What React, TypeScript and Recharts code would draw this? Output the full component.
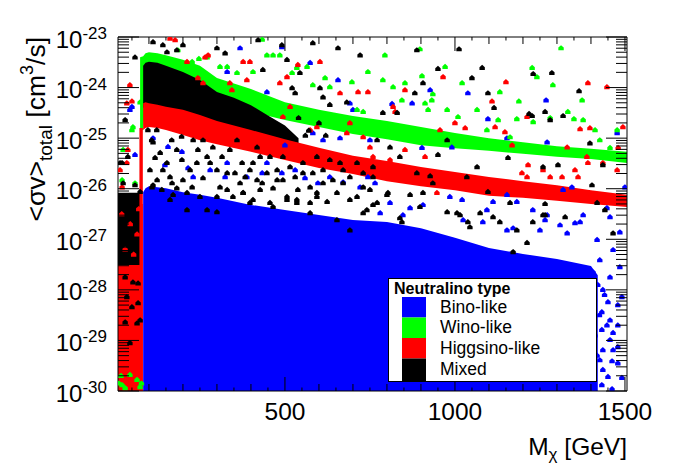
import React from 'react';
import { ComposedChart, Area, Scatter, XAxis, YAxis, Legend } from 'recharts';

const FONT = '"Liberation Sans", Arial, Helvetica, sans-serif';
const W = 696;
const H = 472;
const MARGIN = { top: 36, right: 68, bottom: 80, left: 117 };
const X_DOMAIN: [number, number] = [9, 1506];
const Y_DOMAIN: [number, number] = [1e-30, 1e-23];
const FLOOR = -30;

const COLORS = { bino: '#0000ff', wino: '#00ff00', higgsino: '#ff0000', mixed: '#000000' };
const legendTitle = 'Neutralino type';
const legendLabels = ['Bino-like', 'Wino-like', 'Higgsino-like', 'Mixed'];
const legendColors = [COLORS.bino, COLORS.wino, COLORS.higgsino, COLORS.mixed];

// axis ticks
const xLabelTicks = [500, 1000, 1500];
const xMinorTicks = [50, 100, 150, 200, 250, 300, 350, 400, 450, 500, 550, 600, 650, 700, 750, 800, 850, 900, 950, 1000, 1050, 1100, 1150, 1200, 1250, 1300, 1350, 1400, 1450, 1500];
const yDecades = [-30, -29, -28, -27, -26, -25, -24, -23];
const yMinorMantissas = [2, 3, 4, 5, 6, 7, 8, 9];

// ---- dense regions, values are log10(<sigma v> / cm^3 s^-1) ----
const binoBandMass = [83, 90, 100, 150, 200, 250, 300, 400, 500, 600, 700, 800, 900, 1000, 1100, 1200, 1300, 1400, 1420];
const binoBandHigh = [-26.07, -25.99, -25.95, -25.99, -26.07, -26.12, -26.18, -26.32, -26.42, -26.52, -26.62, -26.66, -26.78, -26.97, -27.17, -27.29, -27.39, -27.53, -27.71];

const winoBandMass = [74, 83, 90, 100, 125, 150, 200, 250, 300, 400, 500, 600, 700, 800, 900, 1000, 1100, 1200, 1300, 1400, 1506];
const winoBandLow = [-24.84, -24.84, -24.25, -24.15, -24.05, -24.05, -24.15, -24.25, -24.34, -24.48, -24.64, -24.78, -24.92, -25.02, -25.14, -25.2, -25.25, -25.31, -25.37, -25.41, -25.49];
const winoBandHigh = [-23.4, -23.38, -23.32, -23.3, -23.32, -23.36, -23.45, -23.57, -23.81, -24.03, -24.29, -24.44, -24.56, -24.66, -24.78, -24.9, -25.0, -25.08, -25.16, -25.21, -25.27];

const mixedBandMass = [83, 90, 100, 125, 150, 200, 250, 300, 350, 400, 450, 500, 540];
const mixedBandLow = [-24.4, -24.4, -24.4, -24.44, -24.48, -24.54, -24.64, -24.74, -24.82, -24.9, -24.97, -25.05, -25.1];
const mixedBandHigh = [-23.57, -23.51, -23.49, -23.51, -23.57, -23.69, -23.85, -24.09, -24.2, -24.35, -24.55, -24.75, -25.0];

const higgsinoBandMass = [83, 90, 100, 125, 150, 200, 250, 300, 400, 500, 600, 700, 800, 900, 1000, 1100, 1200, 1300, 1400, 1506];
const higgsinoBandLow = [-24.84, -24.8, -24.78, -24.8, -24.84, -24.94, -25.04, -25.12, -25.27, -25.43, -25.59, -25.71, -25.85, -25.95, -26.03, -26.14, -26.18, -26.24, -26.3, -26.36];
const higgsinoBandHigh = [-24.31, -24.29, -24.31, -24.34, -24.38, -24.44, -24.54, -24.66, -24.84, -25.02, -25.19, -25.35, -25.45, -25.57, -25.67, -25.77, -25.85, -25.93, -26.03, -26.12];

const higgsinoColMass = [9, 82];
const higgsinoColHigh = [-26.3, -26.3];
const mixedColMass = [9, 78];
const mixedColLow = [-27.51, -27.51];
const mixedColHigh = [-26.08, -26.08];
const higgsinoEdgeMass = [72, 82];
const higgsinoEdgeHigh = [-24.8, -24.8];

// ---- individual scattered points [mass GeV, log10 <sigma v>] ----
const binoPoints: [number, number][] = [
  [112, -25.0], [156, -25.17], [147, -25.53], [197, -25.27], [215, -25.59], [230, -25.77], [280, -25.63], [330, -25.49],
  [324, -25.77], [388, -25.77], [433, -25.69], [447, -25.49], [491, -25.69], [530, -25.63], [559, -25.79], [597, -25.89],
  [632, -25.77], [671, -25.87], [721, -25.97], [744, -25.77], [765, -25.89], [582, -24.9], [500, -25.14], [612, -25.04],
  [662, -25.0], [750, -25.04], [330, -23.69], [368, -23.22], [491, -23.2], [574, -23.51], [447, -24.09], [656, -23.85],
  [691, -24.31], [700, -24.44], [1038, -24.11], [927, -24.05], [1268, -24.25], [874, -24.31], [815, -24.32], [1097, -24.62],
  [1271, -25.08], [991, -25.18], [903, -25.19], [1153, -25.0], [1477, -24.9], [1500, -25.97], [1318, -26.02], [1344, -25.97],
  [1112, -26.26], [1153, -26.12], [1229, -26.42], [1021, -26.22], [985, -26.16], [1377, -26.52], [1447, -26.38], [1353, -26.68],
  [1265, -26.62], [1171, -26.78], [1094, -26.42], [906, -26.32], [868, -26.38], [809, -26.28], [780, -26.48], [847, -26.52],
  [1182, -26.26], [1271, -26.52], [1309, -26.72], [1368, -26.66], [1456, -26.56], [1485, -26.86], [1418, -27.01], [1465, -27.21],
  [1330, -26.88], [1250, -26.82], [1153, -26.82], [1082, -26.66], [1024, -26.62], [1426, -27.41], [1485, -27.55], [1456, -27.75],
  [1406, -27.65], [1435, -28.0], [1450, -28.24], [1479, -28.3], [1491, -28.14], [1432, -28.44], [1456, -28.6], [1447, -28.7],
  [1479, -28.7], [1432, -28.79], [1465, -28.85], [1456, -28.99], [1479, -29.13], [1435, -29.19], [1465, -29.19], [1426, -29.39],
  [1462, -29.41], [1479, -29.45], [1435, -29.58], [1450, -29.72], [1491, -29.74], [1432, -29.88], [1462, -29.96], [1406, -29.94],
  [1420, -27.9], [1440, -28.1], [1410, -28.2], [1425, -28.5], [1412, -28.9], [1418, -29.3], [1410, -29.6],
  [50, -24.38], [44, -24.44], [59, -25.33],
];

const winoPoints: [number, number][] = [
  [185, -23.26], [227, -23.49], [247, -23.43], [271, -23.4], [309, -23.59], [330, -23.59], [359, -23.71], [406, -23.69],
  [447, -23.36], [465, -23.36], [485, -23.36], [433, -23.05], [521, -23.71], [535, -23.61], [565, -23.59], [582, -23.95],
  [618, -23.81], [632, -23.99], [697, -23.89], [744, -23.69], [712, -24.44], [730, -24.48],
  [50, -24.84], [53, -24.78], [24, -25.23], [21, -25.83], [59, -25.89], [74, -24.29],
  [794, -23.36], [897, -23.24], [971, -23.59], [903, -23.77], [1021, -23.91], [853, -23.91], [788, -23.85], [818, -23.99],
  [844, -24.25], [912, -24.31], [932, -24.25], [935, -24.13], [977, -24.44], [921, -24.44], [1009, -24.58], [1065, -24.44],
  [1132, -24.09], [1188, -24.27], [1227, -23.61], [1241, -23.79], [1288, -23.95], [1312, -23.22], [1280, -24.6], [1332, -24.48],
  [1350, -24.62], [1374, -24.25], [1377, -24.64], [1230, -24.68], [1182, -24.62], [1127, -24.64], [1412, -24.84], [1426, -25.04],
  [1456, -25.19], [1477, -24.84], [1094, -24.84], [1162, -24.98],
  [21, -29.88], [30, -29.94], [74, -29.92], [65, -29.78], [12, -29.85], [18, -29.7], [44, -29.68], [78, -29.85],
];

const higgsinoPoints: [number, number][] = [
  [162, -23.03], [177, -23.06], [265, -23.4], [274, -23.36], [212, -23.49], [377, -23.49], [397, -23.49], [538, -23.55],
  [603, -23.49], [506, -23.79], [344, -24.05], [388, -23.85], [485, -23.91], [744, -24.09], [715, -24.09], [662, -24.11],
  [338, -23.91], [244, -23.81], [259, -23.91], [44, -23.95], [50, -24.27], [35, -24.31], [35, -25.49], [21, -25.97],
  [515, -24.38], [494, -24.58], [594, -24.78], [574, -24.84], [691, -24.7], [682, -24.9], [730, -24.98], [750, -25.18], [759, -25.37],
  [965, -23.79], [1150, -23.89], [1391, -23.91], [1447, -23.99], [853, -24.05], [818, -24.38], [824, -24.48], [1109, -24.27],
  [1212, -24.58], [1368, -24.82], [1397, -24.8], [1147, -24.88], [1118, -24.78], [1000, -24.7], [956, -24.84], [1030, -24.8],
  [1168, -25.14], [1330, -25.18], [1391, -25.49], [1435, -25.49], [1388, -25.37], [1353, -25.63], [1362, -25.77], [1315, -25.77],
  [1280, -25.77], [1259, -25.63], [1212, -25.77], [1197, -25.69], [1477, -25.63], [1480, -25.19], [1494, -24.78], [1215, -25.53],
  [912, -25.37], [853, -25.23], [809, -25.43], [947, -26.08],
  [15, -25.63], [38, -25.23], [20, -26.5], [45, -26.7], [65, -26.9], [30, -27.2], [55, -27.3], [70, -26.4],
];

const mixedPoints: [number, number][] = [
  [112, -23.1], [141, -23.16], [200, -23.16], [300, -23.22], [324, -23.32], [421, -23.06], [491, -23.16], [582, -23.12],
  [656, -23.22], [721, -23.36], [506, -23.45], [435, -23.65], [544, -23.71], [182, -23.26], [153, -23.3], [59, -23.4],
  [521, -24.01], [530, -24.11], [603, -24.01], [612, -24.19], [632, -24.34], [682, -24.29], [30, -24.64], [15, -25.49], [38, -25.37],
  [888, -23.26], [1012, -23.24], [950, -23.63], [906, -23.91], [882, -24.11], [1050, -23.81], [1080, -23.61], [1230, -23.73],
  [1285, -23.71], [1365, -24.07], [1097, -24.11], [1115, -24.4], [1218, -24.52], [1227, -24.56], [1265, -24.48], [1318, -24.56],
  [1280, -24.64], [1397, -25.1], [1435, -25.53], [1403, -25.93], [1441, -26.42], [1265, -26.3], [1162, -26.28], [1097, -26.06],
  [1035, -25.77], [1065, -25.57], [1156, -25.39], [1259, -25.57], [1303, -25.53], [977, -25.04], [950, -25.33], [935, -25.89],
  [888, -25.69], [868, -26.12], [788, -24.5], [830, -24.5], [771, -25.04], [809, -25.18], [838, -25.37], [803, -26.08],
  [759, -26.32], [844, -26.66], [977, -26.46], [1015, -26.52], [1038, -26.66], [1265, -26.52],
  [97, -24.84], [112, -25.08], [133, -25.29], [118, -25.39], [103, -25.63], [153, -25.49], [182, -25.23], [197, -25.43],
  [221, -25.63], [162, -25.77], [138, -26.02], [182, -25.99], [227, -25.97], [259, -25.79], [280, -25.49], [315, -25.37],
  [244, -25.23], [338, -25.23], [374, -25.49], [330, -25.69], [309, -25.97], [368, -25.89], [397, -25.63], [418, -25.83],
  [447, -25.69], [477, -25.63], [494, -25.83], [530, -25.77], [538, -26.02], [574, -25.97], [582, -25.69], [612, -25.63],
  [641, -25.83], [671, -25.89], [691, -25.77], [730, -25.97], [759, -25.77], [506, -26.22], [456, -26.28], [397, -26.28],
  [347, -26.16], [162, -26.22], [212, -26.42], [271, -26.42], [574, -26.28], [624, -26.26], [691, -26.22], [741, -26.42],
  [427, -25.37], [553, -25.49], [594, -25.37], [662, -25.49], [359, -25.04], [418, -25.18],
  [112, -25.93], [171, -26.12], [168, -25.89], [300, -26.46], [377, -26.08], [433, -25.89], [465, -25.99], [506, -26.16],
  [535, -26.28], [574, -26.48], [594, -26.08], [653, -26.62], [691, -26.82], [730, -26.48], [771, -26.28], [750, -26.02],
  [465, -26.36], [406, -26.22], [330, -26.02],
  [838, -26.58], [897, -26.36], [1006, -26.48], [1044, -26.76], [1074, -26.48], [1112, -26.56], [1132, -26.66], [1182, -26.82],
  [1212, -27.07], [1171, -27.25], [1229, -26.66], [1259, -26.52], [1324, -26.56], [1418, -26.28], [1465, -26.88], [800, -26.12], [906, -26.08],
  [927, -25.75], [540, -24.6], [600, -24.7], [570, -24.85], [620, -24.95], [560, -24.95],
  [108, -25.04], [123, -24.84], [167, -25.04], [196, -24.97], [230, -25.04], [259, -25.04], [288, -25.18], [141, -25.63],
  [124, -25.83], [109, -25.97], [200, -25.83], [241, -25.49], [271, -25.37], [300, -25.63], [353, -25.69], [383, -25.77],
  [406, -25.49], [456, -25.37], [477, -25.83], [515, -25.57], [494, -25.37], [553, -25.69], [612, -25.89], [632, -25.43],
  [671, -25.63], [712, -25.49], [730, -25.69], [759, -25.57], [427, -26.02], [377, -26.08], [300, -26.16], [250, -26.16],
  [212, -26.08], [535, -26.22], [594, -26.16], [653, -26.08], [712, -26.16],
  [30, -27.75], [53, -27.85], [68, -27.87], [35, -28.14], [50, -28.34], [68, -28.26], [74, -28.6], [30, -28.64], [65, -28.66], [44, -29.05],
  [21, -25.49], [24, -25.89], [59, -25.93], [74, -26.06],
];

// ---- build library data ----
const band = (mass: number[], low: number[], high: number[]) =>
  mass.map((m, i) => ({ m, v: [Math.pow(10, low[i]), Math.pow(10, high[i])] }));
const floorOf = (mass: number[]) => mass.map(() => FLOOR);
const pts = (list: [number, number][]) => list.map(([m, e]) => ({ m, v: Math.pow(10, e) }));

const binoBand = band(binoBandMass, floorOf(binoBandMass), binoBandHigh);
const winoBand = band(winoBandMass, winoBandLow, winoBandHigh);
const mixedBand = band(mixedBandMass, mixedBandLow, mixedBandHigh);
const higgsinoBand = band(higgsinoBandMass, higgsinoBandLow, higgsinoBandHigh);
const higgsinoCol = band(higgsinoColMass, floorOf(higgsinoColMass), higgsinoColHigh);
const mixedCol = band(mixedColMass, mixedColLow, mixedColHigh);
const higgsinoEdge = band(higgsinoEdgeMass, floorOf(higgsinoEdgeMass), higgsinoEdgeHigh);

const yTicks: number[] = [];
yDecades.forEach((d) => {
  yTicks.push(Math.pow(10, d));
  if (d < -23) yMinorMantissas.forEach((k) => yTicks.push(k * Math.pow(10, d)));
});

const isDecade = (v: number) => {
  const e = Math.log10(v);
  return Math.abs(e - Math.round(e)) < 1e-6;
};
const xTickLen = (v: number) => (v % 500 === 0 ? 14 : v % 100 === 0 ? 7 : 3.5);

const BottomTick = (p: any) => {
  const { x, y, payload } = p;
  const v = payload.value;
  return (
    <g>
      <line x1={x} x2={x} y1={y} y2={y - xTickLen(v)} stroke="#000" strokeWidth={1} />
      {xLabelTicks.includes(v) && (
        <text x={x} y={y + 29} textAnchor="middle" fontFamily={FONT} fontSize={24.5} fill="#000">
          {v}
        </text>
      )}
    </g>
  );
};
const TopTick = (p: any) => {
  const { x, y, payload } = p;
  return <line x1={x} x2={x} y1={y} y2={y + xTickLen(payload.value)} stroke="#000" strokeWidth={1} />;
};
const LeftTick = (p: any) => {
  const { x, y, payload } = p;
  const v = payload.value;
  const major = isDecade(v);
  return (
    <g>
      <line x1={x} x2={x + (major ? 21 : 11)} y1={y} y2={y} stroke="#000" strokeWidth={1} />
      {major && (
        <text x={x - 11} y={y + 10.5} textAnchor="end" fontFamily={FONT} fontSize={24} fill="#000">
          10
          <tspan dy={-8.5} fontSize={17}>
            {String(Math.round(Math.log10(v)))}
          </tspan>
        </text>
      )}
    </g>
  );
};
const RightTick = (p: any) => {
  const { x, y, payload } = p;
  const major = isDecade(payload.value);
  return <line x1={x} x2={x - (major ? 21 : 11)} y1={y} y2={y} stroke="#000" strokeWidth={1} />;
};

const XTitle = () => (
  <text x={627} y={455} textAnchor="end" fontFamily={FONT} fontSize={24.5} fill="#000">
    M
    <tspan dy={5} fontSize={17}>χ</tspan>
    <tspan dy={-5}> [GeV]</tspan>
  </text>
);
const YTitle = () => (
  <text transform="rotate(-90)" x={-37} y={45} textAnchor="end" fontFamily={FONT} fontSize={26.5} fill="#000">
    {'<σv>'}
    <tspan dy={7} fontSize={19}>total</tspan>
    <tspan dy={-7}> [cm</tspan>
    <tspan dy={-12} fontSize={18}>3</tspan>
    <tspan dy={12}>/s]</tspan>
  </text>
);

const rowTops = [19, 39.5, 60, 80.5];
const rowHeights = [20.5, 20.5, 20.5, 22.5];
const rowBaselines = [34.7, 55.3, 75.5, 97];
const LegendBox = () => (
  <svg width={209} height={104} style={{ display: 'block' }}>
    <rect x={0.5} y={0.5} width={208} height={103} fill="#fff" stroke="#000" strokeWidth={1} />
    <text x={6} y={15.5} fontFamily={FONT} fontWeight="bold" fontSize={16} fill="#000">
      {legendTitle}
    </text>
    {legendLabels.map((l, i) => (
      <g key={l}>
        <rect x={14} y={rowTops[i]} width={24} height={rowHeights[i]} fill={legendColors[i]} />
        <text x={52} y={rowBaselines[i]} fontFamily={FONT} fontSize={17.5} fill="#000">
          {l}
        </text>
      </g>
    ))}
  </svg>
);

const marker = (color: string) => (p: any) => {
  const { cx, cy } = p;
  if (cx == null || cy == null) return <g />;
  return (
    <path
      d={`M${cx},${cy - 3}L${cx + 2.7},${cy - 0.6}L${cx + 2.7},${cy + 2.2}L${cx - 2.7},${cy + 2.2}L${cx - 2.7},${cy - 0.6}Z`}
      fill={color}
    />
  );
};

const areaProps = {
  xAxisId: 'b',
  yAxisId: 'l',
  dataKey: 'v',
  type: 'linear' as const,
  stroke: 'none',
  fillOpacity: 1,
  isAnimationActive: false,
  dot: false,
  activeDot: false,
};

const axisLine = { stroke: '#000', strokeWidth: 1 };

export default function App() {
  return (
    <div style={{ position: 'absolute', left: 0, top: 0, width: W, height: H, background: '#fff', fontFamily: FONT }}>
      <ComposedChart width={W} height={H} margin={MARGIN}>
        <Area {...areaProps} data={binoBand} fill={COLORS.bino} name="Bino-like band" />
        <Area {...areaProps} data={winoBand} fill={COLORS.wino} name="Wino-like band" />
        <Area {...areaProps} data={mixedBand} fill={COLORS.mixed} name="Mixed band" />
        <Area {...areaProps} data={higgsinoBand} fill={COLORS.higgsino} name="Higgsino-like band" />
        <Area {...areaProps} data={higgsinoCol} fill={COLORS.higgsino} name="Higgsino-like low mass" />
        <Area {...areaProps} data={mixedCol} fill={COLORS.mixed} name="Mixed low mass" />
        <Area {...areaProps} data={higgsinoEdge} fill={COLORS.higgsino} name="Higgsino-like edge" />

        <Scatter xAxisId="b" yAxisId="l" data={pts(binoPoints)} fill={COLORS.bino} shape={marker(COLORS.bino)} isAnimationActive={false} name="Bino-like" />
        <Scatter xAxisId="b" yAxisId="l" data={pts(winoPoints)} fill={COLORS.wino} shape={marker(COLORS.wino)} isAnimationActive={false} name="Wino-like" />
        <Scatter xAxisId="b" yAxisId="l" data={pts(higgsinoPoints)} fill={COLORS.higgsino} shape={marker(COLORS.higgsino)} isAnimationActive={false} name="Higgsino-like" />
        <Scatter xAxisId="b" yAxisId="l" data={pts(mixedPoints)} fill={COLORS.mixed} shape={marker(COLORS.mixed)} isAnimationActive={false} name="Mixed" />

        <XAxis
          xAxisId="b"
          dataKey="m"
          type="number"
          domain={X_DOMAIN}
          allowDataOverflow
          ticks={xMinorTicks}
          interval={0}
          height={1}
          tickSize={0}
          tickMargin={0}
          tickLine={false}
          axisLine={axisLine}
          tick={BottomTick}
          label={{ content: XTitle }}
        />
        <XAxis
          xAxisId="t"
          orientation="top"
          dataKey="m"
          type="number"
          domain={X_DOMAIN}
          allowDataOverflow
          ticks={xMinorTicks}
          interval={0}
          height={1}
          tickSize={0}
          tickMargin={0}
          tickLine={false}
          axisLine={axisLine}
          tick={TopTick}
        />
        <YAxis
          yAxisId="l"
          dataKey="v"
          type="number"
          scale="log"
          domain={Y_DOMAIN}
          allowDataOverflow
          ticks={yTicks}
          interval={0}
          width={1}
          tickSize={0}
          tickMargin={0}
          tickLine={false}
          axisLine={axisLine}
          tick={LeftTick}
          label={{ content: YTitle }}
        />
        <YAxis
          yAxisId="r"
          orientation="right"
          dataKey="v"
          type="number"
          scale="log"
          domain={Y_DOMAIN}
          allowDataOverflow
          ticks={yTicks}
          interval={0}
          width={1}
          tickSize={0}
          tickMargin={0}
          tickLine={false}
          axisLine={axisLine}
          tick={RightTick}
        />
        <Legend
          layout="vertical"
          align="center"
          verticalAlign="middle"
          wrapperStyle={{ left: 388, top: 278, width: 209, height: 104 }}
          content={() => <LegendBox />}
        />
      </ComposedChart>
    </div>
  );
}
